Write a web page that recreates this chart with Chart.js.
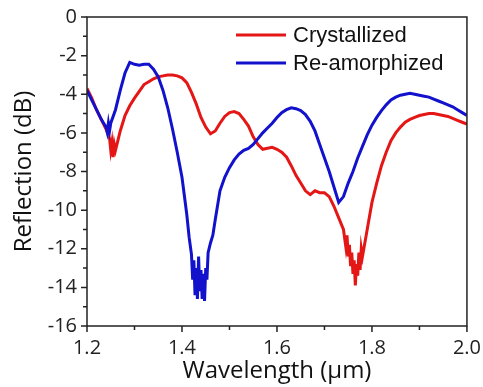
<!DOCTYPE html>
<html>
<head>
<meta charset="utf-8">
<script src="https://cdn.jsdelivr.net/npm/chart.js@4"></script>
<style>
  html, body { margin: 0; padding: 0; background: #fff; }
  #wrap { width: 483px; height: 387px; }
</style>
</head>
<body>
<div id="wrap"><canvas id="chart" width="483" height="387"></canvas></div>
<script>
// Reflection spectra (wavelength in um, reflection in dB)
const redWl = [1.20, 1.21, 1.22, 1.23, 1.24, 1.2475, 1.25, 1.2525, 1.255, 1.2575, 1.26, 1.265, 1.27, 1.28, 1.29,
  1.30, 1.31, 1.32, 1.33, 1.34, 1.35, 1.36, 1.37, 1.38, 1.39, 1.40, 1.41, 1.42, 1.43, 1.44, 1.45, 1.46, 1.47,
  1.48, 1.49, 1.50, 1.51, 1.52, 1.53, 1.54, 1.55, 1.56, 1.57, 1.58, 1.59, 1.60, 1.61, 1.62, 1.63, 1.64, 1.65,
  1.66, 1.67, 1.68, 1.69, 1.70, 1.71, 1.72, 1.73, 1.74, 1.745, 1.7475, 1.75, 1.7525, 1.755, 1.7575, 1.76,
  1.7625, 1.765, 1.7675, 1.77, 1.7725, 1.775, 1.7775, 1.78, 1.785, 1.79, 1.80, 1.81, 1.82, 1.83, 1.84,
  1.85, 1.86, 1.87, 1.88, 1.89, 1.90, 1.91, 1.92, 1.93, 1.94, 1.95, 1.96, 1.97, 1.98, 1.99, 2.00];
const redDb = [-3.7, -4.2, -4.8, -5.3, -5.8, -6.3, -6.9, -6.5, -7.25, -6.6, -6.9, -6.4, -5.9, -5.1, -4.6,
  -4.2, -3.85, -3.5, -3.35, -3.2, -3.1, -3.05, -3.0, -3.0, -3.05, -3.15, -3.4, -3.9, -4.5, -5.2, -5.7, -6.05, -5.9,
  -5.5, -5.15, -4.95, -4.9, -5.0, -5.3, -5.65, -6.2, -6.6, -6.85, -6.8, -6.75, -6.85, -7.0, -7.25, -7.7, -8.2, -8.6,
  -9.0, -9.2, -9.0, -9.1, -9.1, -9.3, -9.8, -10.4, -11.0, -11.9, -11.3, -12.4, -11.8, -12.9, -12.2, -13.3,
  -12.6, -13.9, -12.8, -13.4, -12.2, -13.1, -12.0, -12.4, -11.7, -11.0, -9.6, -8.6, -7.7, -7.0, -6.4,
  -6.0, -5.7, -5.45, -5.3, -5.2, -5.1, -5.05, -5.0, -5.0, -5.05, -5.1, -5.15, -5.25, -5.35, -5.45, -5.55];

const blueWl = [1.20, 1.21, 1.22, 1.23, 1.24, 1.2425, 1.245, 1.2475, 1.25, 1.26, 1.27, 1.28, 1.29, 1.30, 1.31,
  1.32, 1.33, 1.34, 1.35, 1.36, 1.37, 1.38, 1.39, 1.40, 1.41, 1.415, 1.42, 1.4225, 1.425, 1.4275, 1.43, 1.4325,
  1.435, 1.4375, 1.44, 1.4425, 1.445, 1.4475, 1.45, 1.4525, 1.455, 1.46, 1.465, 1.47, 1.48, 1.49, 1.50, 1.51,
  1.52, 1.53, 1.54, 1.55, 1.56, 1.57, 1.58, 1.59, 1.60, 1.61, 1.62, 1.63, 1.64, 1.65, 1.66, 1.67, 1.68, 1.69,
  1.70, 1.71, 1.72, 1.73, 1.74, 1.75, 1.76, 1.77, 1.78, 1.79, 1.80, 1.81, 1.82, 1.83, 1.84, 1.85, 1.86, 1.87,
  1.88, 1.89, 1.90, 1.91, 1.92, 1.93, 1.94, 1.95, 1.96, 1.97, 1.98, 1.99, 2.00];
const blueDb = [-3.8, -4.3, -4.8, -5.3, -5.7, -5.95, -5.5, -5.9, -5.5, -4.8, -3.8, -2.9, -2.35, -2.45, -2.5,
  -2.45, -2.45, -2.7, -3.1, -3.8, -4.7, -5.8, -7.0, -8.3, -10.2, -11.4, -12.3, -13.6, -12.6, -14.4, -13.0, -14.6,
  -12.4, -14.2, -13.1, -14.6, -13.3, -14.7, -13.0, -13.6, -12.2, -11.7, -11.3, -10.5, -9.0, -8.3, -7.8, -7.4,
  -7.1, -6.9, -6.8, -6.6, -6.3, -6.0, -5.75, -5.5, -5.2, -4.95, -4.8, -4.7, -4.75, -4.85, -5.05, -5.4, -5.9, -6.6,
  -7.3, -8.0, -8.8, -9.6, -9.3, -8.6, -8.0, -7.3, -6.7, -6.1, -5.6, -5.2, -4.85, -4.55, -4.3, -4.15, -4.05, -4.0,
  -3.95, -4.0, -4.05, -4.1, -4.15, -4.25, -4.35, -4.45, -4.55, -4.65, -4.8, -4.95, -5.1];

const seriesNames = ['Crystallized', 'Re-amorphized'];
const seriesColors = ['rgb(228, 22, 22)', 'rgb(18, 18, 205)'];

const toPoints = (xs, ys) => xs.map((x, i) => ({ x: x, y: ys[i] }));

// frame around the plot, outward major/minor ticks and the inset legend
const framePlugin = {
  id: 'frame',
  afterDraw(chart) {
    const { ctx, chartArea: a, scales } = chart;
    ctx.save();
    ctx.strokeStyle = '#222';
    ctx.lineWidth = 1.5;
    ctx.strokeRect(a.left, a.top, a.right - a.left, a.bottom - a.top);

    ctx.beginPath();
    for (let i = 0; i <= 8; i++) {
      const px = scales.x.getPixelForValue(1.2 + i * 0.1);
      const len = i % 2 === 0 ? 6 : 4;
      ctx.moveTo(px, a.bottom);
      ctx.lineTo(px, a.bottom + len);
    }
    for (let v = 0; v >= -16; v--) {
      const py = scales.y.getPixelForValue(v);
      const len = v % 2 === 0 ? 6 : 4;
      ctx.moveTo(a.left, py);
      ctx.lineTo(a.left - len, py);
    }
    ctx.stroke();

    // legend
    const rows = [35, 63];
    ctx.font = '22px "Liberation Sans", Arial, sans-serif';
    ctx.textBaseline = 'middle';
    ctx.textAlign = 'left';
    rows.forEach((y, i) => {
      ctx.strokeStyle = seriesColors[i];
      ctx.lineWidth = 2.8;
      ctx.beginPath();
      ctx.moveTo(236, y);
      ctx.lineTo(286, y);
      ctx.stroke();
      ctx.fillStyle = '#111';
      ctx.fillText(seriesNames[i], 293, y + 1);
    });
    ctx.restore();
  }
};

const axisFont = '"Open Sans", Lato, sans-serif';

new Chart(document.getElementById('chart'), {
  type: 'line',
  data: {
    datasets: [
      {
        label: seriesNames[0],
        data: toPoints(redWl, redDb),
        borderColor: seriesColors[0],
        borderWidth: 3,
        pointRadius: 0,
        tension: 0,
        order: 2
      },
      {
        label: seriesNames[1],
        data: toPoints(blueWl, blueDb),
        borderColor: seriesColors[1],
        borderWidth: 3,
        pointRadius: 0,
        tension: 0,
        order: 1
      }
    ]
  },
  options: {
    responsive: false,
    animation: false,
    layout: { padding: { left: 0, right: 8, top: 17, bottom: 0 } },
    plugins: {
      legend: { display: false },
      tooltip: { enabled: false }
    },
    scales: {
      x: {
        type: 'linear',
        min: 1.2,
        max: 2.0,
        afterFit: (s) => { s.height = 61; },
        grid: { display: false },
        border: { display: false },
        ticks: {
          stepSize: 0.2,
          padding: 2,
          color: '#222',
          font: { family: axisFont, size: 20 },
          callback: (v) => Number(v).toFixed(1)
        },
        title: {
          display: true,
          text: 'Wavelength (μm)',
          color: '#111',
          padding: { top: 0, bottom: 1 },
          font: { family: axisFont, size: 24 }
        }
      },
      y: {
        min: -16,
        max: 0,
        afterFit: (s) => { s.width = 87; },
        grid: { display: false },
        border: { display: false },
        ticks: {
          stepSize: 2,
          padding: 2,
          color: '#222',
          font: { family: axisFont, size: 20 }
        },
        title: {
          display: true,
          text: 'Reflection (dB)',
          color: '#111',
          padding: { top: 10, bottom: 0 },
          font: { family: axisFont, size: 24 }
        }
      }
    }
  },
  plugins: [framePlugin]
});
</script>
</body>
</html>
